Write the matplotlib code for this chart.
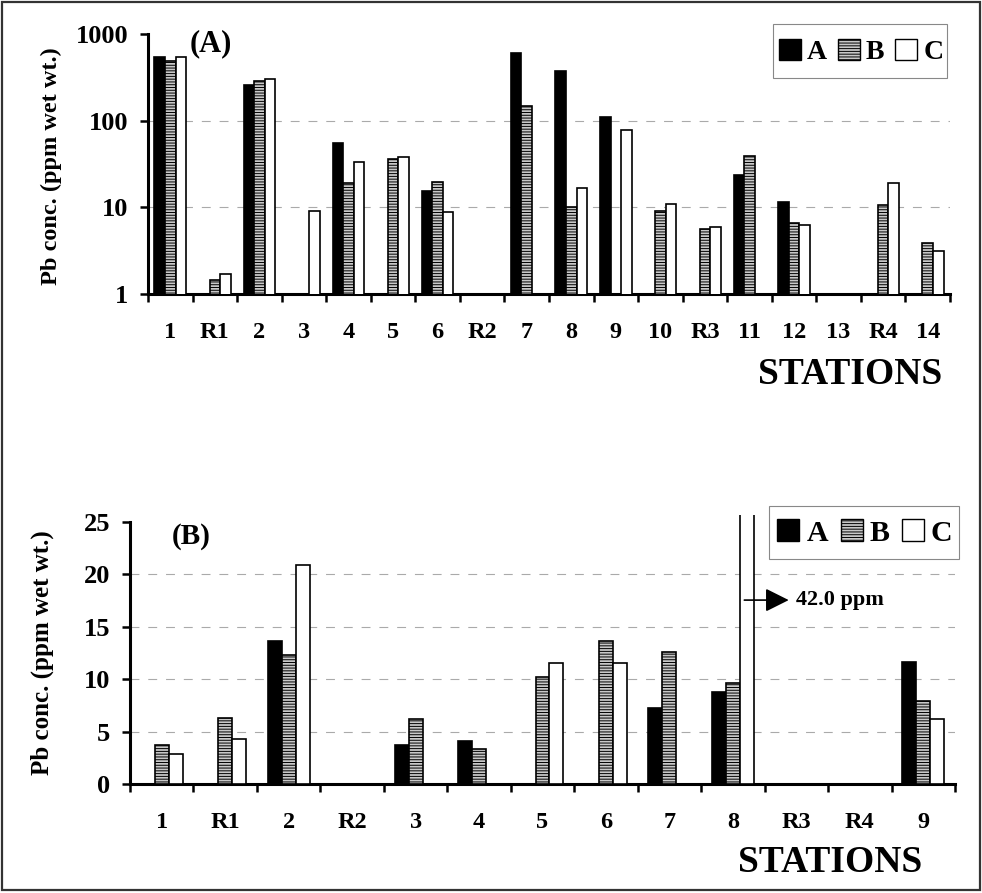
import numpy as np
import matplotlib
matplotlib.use("Agg")
import matplotlib.pyplot as plt
from matplotlib.patches import Rectangle, Patch
from matplotlib.ticker import FixedLocator, NullLocator, FixedFormatter

plt.rcParams['font.family'] = ['Liberation Serif', 'DejaVu Serif']
plt.rcParams['font.weight'] = 'bold'
plt.rcParams['hatch.linewidth'] = 0.7

# ---------------- data (panel A, log scale) ----------------
stations_a = ['1', 'R1', '2', '3', '4', '5', '6', 'R2', '7', '8', '9',
              '10', 'R3', '11', '12', '13', 'R4', '14']
a_A = [550, np.nan, 257, np.nan, 55, np.nan, 15.5, np.nan, 600, 375, 110,
       np.nan, np.nan, 23.5, 11.5, np.nan, np.nan, np.nan]
a_B = [490, 1.45, 285, np.nan, 19, 36, 19.6, np.nan, 148, 10, np.nan,
       9.1, 5.6, 39, 6.6, np.nan, 10.6, 3.9]
a_C = [545, 1.7, 300, 9.1, 33, 38, 8.8, np.nan, np.nan, 16.6, 78,
       10.9, 5.9, np.nan, 6.3, np.nan, 19, 3.1]
yticks_a = [1, 10, 100, 1000]

# ---------------- data (panel B, linear scale) ----------------
stations_b = ['1', 'R1', '2', 'R2', '3', '4', '5', '6', '7', '8', 'R3', 'R4', '9']
b_A = [np.nan, np.nan, 13.6, np.nan, 3.7, 4.1, np.nan, np.nan, 7.3, 8.8,
       np.nan, np.nan, 11.6]
b_B = [3.7, 6.3, 12.3, np.nan, 6.2, 3.3, 10.2, 13.6, 12.6, 9.6,
       np.nan, np.nan, 7.9]
b_C = [2.9, 4.3, 20.9, np.nan, np.nan, np.nan, 11.5, 11.5, np.nan, 42.0,
       np.nan, np.nan, 6.2]
yticks_b = [0, 5, 10, 15, 20, 25]
note_value = 42.0

series = ['A', 'B', 'C']
styles = {
    'A': dict(facecolor='black', edgecolor='black', hatch=None),
    'B': dict(facecolor='#c8c8c8', edgecolor='black', hatch='------'),
    'C': dict(facecolor='white', edgecolor='black', hatch=None),
}

W, H = 982, 893
fig = plt.figure(figsize=(W / 100, H / 100), dpi=100)


def px(x0, y0, x1, y1):
    # pixel box -> figure fraction rect
    return [x0 / W, 1 - y1 / H, (x1 - x0) / W, (y1 - y0) / H]


def draw_panel(ax, labels, values, width, ytop_spine):
    n = len(labels)
    x = np.arange(n) + 0.5
    for k, (name, vals) in enumerate(zip(series, values)):
        st = styles[name]
        ax.bar(x + (k - 1) * width, vals, width, facecolor=st['facecolor'],
               edgecolor=st['edgecolor'], hatch=st['hatch'], linewidth=1.2,
               zorder=3, label=name)
    ax.set_xlim(0, n)
    ax.xaxis.set_major_locator(FixedLocator(np.arange(n + 1)))
    ax.xaxis.set_major_formatter(FixedFormatter([''] * (n + 1)))
    ax.xaxis.set_minor_locator(FixedLocator(x))
    ax.xaxis.set_minor_formatter(FixedFormatter(labels))
    ax.tick_params(axis='x', which='major', direction='out', length=6, width=1.8)
    ax.tick_params(axis='x', which='minor', length=0, pad=20, labelsize=17.5)
    ax.tick_params(axis='y', which='major', direction='out', length=6, width=1.8,
                   pad=8, labelsize=19)
    ax.tick_params(axis='y', which='minor', length=0)
    for s in ['top', 'right']:
        ax.spines[s].set_visible(False)
    for s in ['left', 'bottom']:
        ax.spines[s].set_linewidth(2.2)
    ax.spines['left'].set_bounds(ax.get_ylim()[0], ytop_spine)
    for lab in ax.get_xticklabels(minor=True) + ax.get_yticklabels():
        lab.set_fontweight('bold')


# ---------------- panel A ----------------
ax1 = fig.add_axes(px(148, 34, 950, 294))
ax1.set_yscale('log')
ax1.set_ylim(1, 1000)
draw_panel(ax1, stations_a, [a_A, a_B, a_C], 0.237, 1000)
ax1.yaxis.set_major_locator(FixedLocator(yticks_a))
ax1.yaxis.set_major_formatter(FixedFormatter([str(v) for v in yticks_a]))
ax1.yaxis.set_minor_locator(NullLocator())
for v in yticks_a[1:-1]:
    ax1.axhline(v, color='#aaaaaa', lw=0.8, ls=(0, (8, 8)), zorder=1)
for lab in ax1.get_yticklabels():
    lab.set_fontweight('bold')

# ---------------- panel B ----------------
ax2 = fig.add_axes(px(130, 515, 955, 784))
ax2.set_ylim(0, 25.67)
draw_panel(ax2, stations_b, [b_A, b_B, b_C], 0.22, 25)
ax2.yaxis.set_major_locator(FixedLocator(yticks_b))
ax2.yaxis.set_major_formatter(FixedFormatter([str(v) for v in yticks_b]))
for v in yticks_b[1:-1]:
    ax2.axhline(v, color='#aaaaaa', lw=0.8, ls=(0, (8, 8)), zorder=1)
for lab in ax2.get_yticklabels():
    lab.set_fontweight('bold')

# arrow note for the off-scale bar
i8 = stations_b.index('8')
xc = i8 + 0.5 + 0.22
ax2.annotate('', xy=(xc + 0.66, 17.55), xytext=(xc - 0.04, 17.55),
             arrowprops=dict(arrowstyle='-|>', mutation_scale=36, lw=1.2,
                             color='black', shrinkA=0, shrinkB=0), zorder=5)
ax2.text(xc + 0.78, 17.55, f'{note_value:.1f} ppm', ha='left', va='center',
         fontsize=16, fontweight='bold')

# ---------------- legends (frame drawn separately) ----------------
handles = [Patch(facecolor=styles[s]['facecolor'], edgecolor='black',
                 hatch=styles[s]['hatch'], linewidth=1.0) for s in series]
legend_specs = [
    # content centre (px), font size, handlelength, textpad, colspacing, frame box (px)
    ((861, 52), 20, 0.8, 0.22, 0.38, (773, 24, 947, 78)),
    ((865, 533), 21.5, 0.74, 0.23, 0.42, (769, 506, 959, 559)),
]
for (cx, cy), fs, hl, htp, cs, (bx0, by0, bx1, by1) in legend_specs:
    fig.legend(handles, series, loc='center', bbox_to_anchor=(cx / W, 1 - cy / H),
               ncol=3, handlelength=hl, handleheight=hl, handletextpad=htp,
               columnspacing=cs, borderpad=0, borderaxespad=0, frameon=False,
               prop=dict(weight='bold', size=fs))
    fig.patches.append(Rectangle((bx0 / W, 1 - by1 / H), (bx1 - bx0) / W,
                                 (by1 - by0) / H, fill=False, edgecolor='#888888',
                                 linewidth=0.8, transform=fig.transFigure,
                                 figure=fig))

# ---------------- labels ----------------
fig.text(211 / W, 1 - 44 / H, '(A)', ha='center', va='center', fontsize=22,
         fontweight='bold')
fig.text(191 / W, 1 - 537 / H, '(B)', ha='center', va='center', fontsize=21,
         fontweight='bold')
ylab = 'Pb conc. (ppm wet wt.)'
fig.text(51 / W, 1 - 166 / H, ylab, rotation=90, ha='center', va='center',
         fontsize=17.5, fontweight='bold')
fig.text(42 / W, 1 - 653 / H, ylab, rotation=90, ha='center', va='center',
         fontsize=18, fontweight='bold')
fig.text(942 / W, 1 - 375 / H, 'STATIONS', ha='right', va='center',
         fontsize=27, fontweight='bold')
fig.text(922 / W, 1 - 862 / H, 'STATIONS', ha='right', va='center',
         fontsize=27, fontweight='bold')

# outer frame
fig.patches.append(Rectangle((2 / W, 3 / H), 978 / W, 888 / H, fill=False,
                             edgecolor='#333333', linewidth=1.6,
                             transform=fig.transFigure, figure=fig))

fig.savefig('out.png', dpi=100, facecolor='white')
